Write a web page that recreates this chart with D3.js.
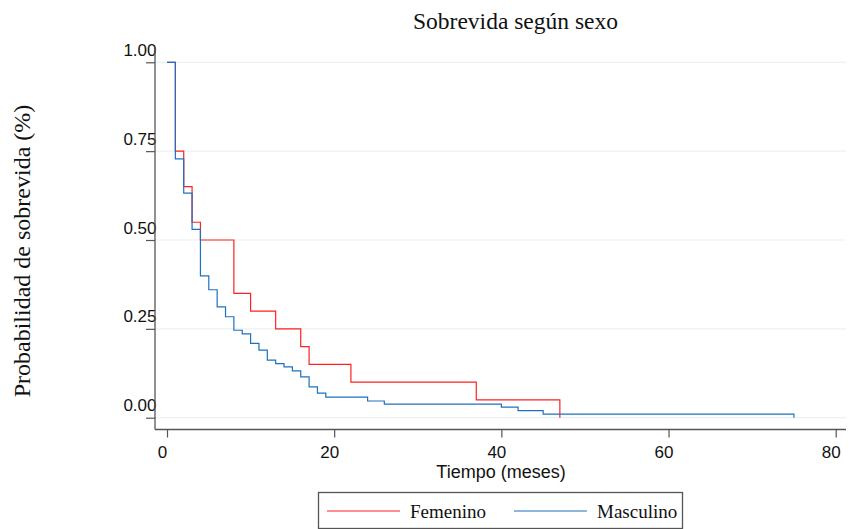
<!DOCTYPE html>
<html lang="es">
<head>
<meta charset="utf-8">
<script src="https://cdn.jsdelivr.net/npm/d3@7"></script>
<style>
  body { margin: 0; background: #fff; }
  .serif { font-family: "Liberation Serif", "Times New Roman", serif; fill: #111; }
  .sans { font-family: "Liberation Sans", Arial, sans-serif; fill: #111; }
</style>
</head>
<body>
<svg id="chart" width="849" height="529"></svg>
<script>
// Kaplan-Meier estimates
var femTime = [0, 1, 2, 3, 4, 8, 10, 13, 16, 17, 22, 37, 47];
var femSurv = [1, 0.75, 0.65, 0.55, 0.50, 0.35, 0.30, 0.25, 0.20, 0.15, 0.10, 0.05, 0];

var masTime = [0, 1, 2, 3, 4, 5, 6, 7, 8, 9, 10, 11, 12, 13, 14, 15, 16, 17, 18, 19, 24, 26, 40, 42, 45, 75];
var masSurv = [1, 0.728, 0.632, 0.530, 0.399, 0.360, 0.312, 0.284, 0.246, 0.236, 0.209, 0.190, 0.162, 0.152,
               0.143, 0.132, 0.115, 0.087, 0.069, 0.058, 0.047, 0.038, 0.030, 0.020, 0.010, 0];

var xTicks = [0, 20, 40, 60, 80];
var yTicks = [0, 0.25, 0.5, 0.75, 1];
var seriesNames = ["Femenino", "Masculino"];
var seriesColors = ["#ff2020", "#1f70c0"];

var svg = d3.select("#chart");

var x = d3.scaleLinear().domain([0, 80]).range([167, 835.7]);
var y = d3.scaleLinear().domain([0, 1]).range([417.7, 62.3]);

// plot frame (names avoid window.top)
var plotL = 155, plotR = 846, plotT = 47, plotB = 429.5;

// gridlines
svg.append("g").selectAll("line")
  .data(yTicks).enter().append("line")
  .attr("x1", plotL).attr("x2", plotR)
  .attr("y1", function (d) { return y(d); })
  .attr("y2", function (d) { return y(d); })
  .attr("stroke", "#eaf2f3").attr("stroke-width", 1.2);

// y axis
var yAxis = d3.axisLeft(y).tickValues(yTicks).tickSize(9).tickFormat(d3.format(".2f"));
var gy = svg.append("g").attr("transform", "translate(" + plotL + ",0)").call(yAxis);
gy.select(".domain").remove();
gy.selectAll(".tick line").attr("stroke", "#555").attr("stroke-width", 1.2);
gy.selectAll(".tick text")
  .attr("class", "sans").attr("x", 1.5).attr("dy", null).attr("y", -7)
  .style("font-size", "17px").attr("text-anchor", "end");
svg.append("line").attr("x1", plotL).attr("x2", plotL).attr("y1", plotT).attr("y2", plotB)
  .attr("stroke", "#555").attr("stroke-width", 1.3);

// x axis
var xAxis = d3.axisBottom(x).tickValues(xTicks).tickSize(8);
var gx = svg.append("g").attr("transform", "translate(0," + plotB + ")").call(xAxis);
gx.select(".domain").remove();
gx.selectAll(".tick line").attr("stroke", "#555").attr("stroke-width", 1.2);
gx.selectAll(".tick text")
  .attr("class", "sans").attr("x", -5).attr("dy", null).attr("y", 28)
  .style("font-size", "17px");
svg.append("line").attr("x1", plotL).attr("x2", plotR).attr("y1", plotB).attr("y2", plotB)
  .attr("stroke", "#555").attr("stroke-width", 1.3);

// survival curves
var step = d3.line()
  .x(function (d) { return x(d[0]); })
  .y(function (d) { return y(d[1]); })
  .curve(d3.curveStepAfter);

var series = [d3.zip(femTime, femSurv), d3.zip(masTime, masSurv)];
series.forEach(function (s, i) {
  svg.append("path").datum(s)
    .attr("d", step)
    .attr("fill", "none")
    .attr("stroke", seriesColors[i])
    .attr("stroke-width", 1.2);
});

// titles
svg.append("text").attr("class", "serif")
  .attr("x", 515.5).attr("y", 29).attr("text-anchor", "middle")
  .style("font-size", "23.5px").text("Sobrevida según sexo");

svg.append("text").attr("class", "sans")
  .attr("x", 501).attr("y", 478).attr("text-anchor", "middle")
  .style("font-size", "18px").text("Tiempo (meses)");

svg.append("text").attr("class", "serif")
  .attr("transform", "translate(30,251) rotate(-90)")
  .attr("text-anchor", "middle")
  .style("font-size", "24px").text("Probabilidad de sobrevida (%)");

// legend
var lg = svg.append("g");
lg.append("rect").attr("x", 318.5).attr("y", 492.5).attr("width", 364).attr("height", 36)
  .attr("fill", "#fff").attr("stroke", "#555").attr("stroke-width", 1.3);
var legX = [327, 514];
seriesNames.forEach(function (name, i) {
  lg.append("line").attr("x1", legX[i]).attr("x2", legX[i] + 73)
    .attr("y1", 511).attr("y2", 511)
    .attr("stroke", seriesColors[i]).attr("stroke-width", 1.2);
  lg.append("text").attr("class", "serif")
    .attr("x", legX[i] + 83).attr("y", 517.5)
    .style("font-size", "19px").text(name);
});
</script>
</body>
</html>
